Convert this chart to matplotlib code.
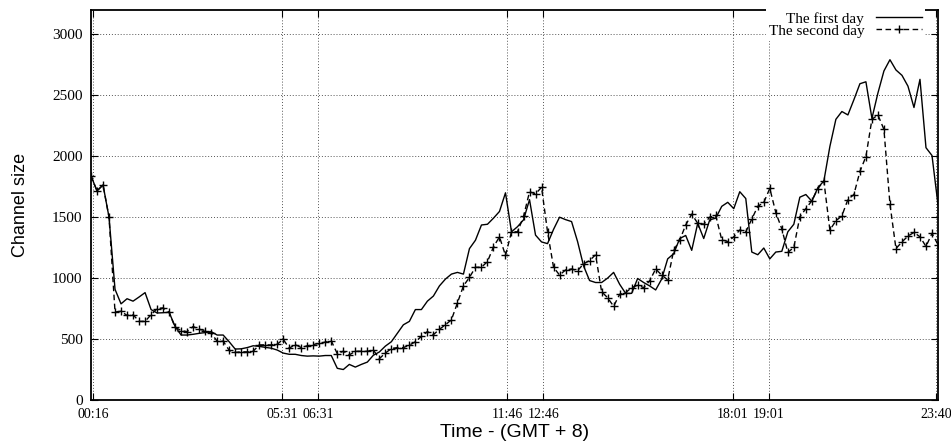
import numpy as np
import matplotlib
matplotlib.use("Agg")
import matplotlib.pyplot as plt

# channel size sampled every 10 minutes, first sample at 00:13
start_min = 13
step_min = 10

first_day = [
    1840, 1715, 1765, 1500, 908, 789, 831, 811, 845, 881,
    742, 714, 716, 720, 603, 533, 533, 539, 547, 553,
    561, 533, 533, 478, 418, 420, 430, 445, 440, 432,
    425, 410, 385, 375, 375, 365, 360, 362, 360, 365,
    365, 260, 250, 292, 270, 292, 311, 367, 394, 442,
    478, 547, 617, 645, 742, 742, 811, 853, 936, 992,
    1033, 1047, 1033, 1242, 1311, 1436, 1442, 1492, 1547, 1700,
    1380, 1422, 1478, 1644, 1353, 1297, 1283, 1400, 1500, 1480,
    1464, 1300, 1100, 980, 964, 964, 1000, 1047, 950, 875,
    875, 997, 964, 936, 903, 992, 1158, 1200, 1325, 1350,
    1228, 1450, 1325, 1478, 1492, 1589, 1622, 1570, 1709, 1653,
    1214, 1192, 1247, 1158, 1214, 1220, 1380, 1442, 1664, 1686,
    1631, 1742, 1797, 2080, 2303, 2367, 2339, 2464, 2595, 2611,
    2311, 2519, 2700, 2792, 2708, 2664, 2575, 2400, 2631, 2070,
    2006, 1603,
]
second_day = [
    1840, 1715, 1765, 1500, 722, 728, 694, 700, 645, 645,
    700, 750, 756, 720, 597, 570, 561, 603, 580, 570,
    547, 483, 483, 408, 390, 395, 395, 400, 452, 452,
    452, 458, 498, 425, 455, 430, 445, 455, 465, 475,
    485, 380, 400, 370, 400, 400, 400, 410, 339, 385,
    422, 430, 430, 450, 478, 522, 561, 536, 580, 617,
    658, 797, 936, 1006, 1089, 1089, 1136, 1256, 1339, 1186,
    1380, 1380, 1506, 1708, 1692, 1745, 1380, 1089, 1025, 1067,
    1075, 1061, 1117, 1144, 1192, 889, 839, 769, 867, 881,
    922, 942, 922, 978, 1075, 1025, 986, 1228, 1311, 1436,
    1525, 1450, 1442, 1500, 1514, 1315, 1300, 1338, 1395, 1380,
    1485, 1589, 1621, 1736, 1538, 1404, 1211, 1252, 1503, 1570,
    1635, 1735, 1797, 1395, 1470, 1511, 1645, 1686, 1875, 1997,
    2303, 2339, 2220, 1608, 1242, 1297, 1345, 1375, 1339, 1260,
    1367, 1275,
]

tick_labels = ["00:16", "05:31", "06:31", "11:46", "12:46", "18:01", "19:01", "23:40"]
tick_min = [int(s[:2]) * 60 + int(s[3:]) for s in tick_labels]

t = start_min + step_min * np.arange(len(first_day))

serif = ["Liberation Serif", "DejaVu Serif"]
sans = ["Liberation Sans", "DejaVu Sans"]

fig = plt.figure(figsize=(9.51, 4.46), dpi=100)
ax = fig.add_axes([91 / 951, 1 - 400 / 446, (938 - 91) / 951, 390 / 446])

ax.plot(t, first_day, color="black", lw=1.0, label="The first day")
ax.plot(t, second_day, color="black", lw=1.0, ls=(0, (4, 2.5)), marker="+",
        ms=6, mew=1.0, label="The second day")

ax.set_xlim(t[0], t[-1])
ax.set_ylim(0, 3200)
ax.set_xticks(tick_min)
ax.set_xticklabels(tick_labels, family=serif, fontsize=10)
ax.set_yticks(np.arange(0, 3001, 500))
for lab in ax.get_yticklabels():
    lab.set_family(serif)
    lab.set_fontsize(11)

ax.grid(True, ls=(0, (1, 2)), color="#555555", lw=0.7)
ax.tick_params(direction="in", top=True, right=True, length=5, width=0.8, pad=6)
for sp in ax.spines.values():
    sp.set_linewidth(1.3)

ax.set_xlabel("Time - (GMT + 8)", family=sans, fontsize=14, labelpad=2)
ax.set_ylabel("Channel size", family=sans, fontsize=13, labelpad=17)

leg = ax.legend(loc="upper right", bbox_to_anchor=(0.985, 1.003), markerfirst=False,
                frameon=True, fancybox=False, framealpha=1, edgecolor="white",
                handlelength=3.0, handletextpad=0.8, labelspacing=-0.1,
                borderaxespad=0, borderpad=0.2,
                prop={"family": serif, "size": 11})
leg.get_frame().set_linewidth(0)

fig.savefig("out.png", dpi=100)
